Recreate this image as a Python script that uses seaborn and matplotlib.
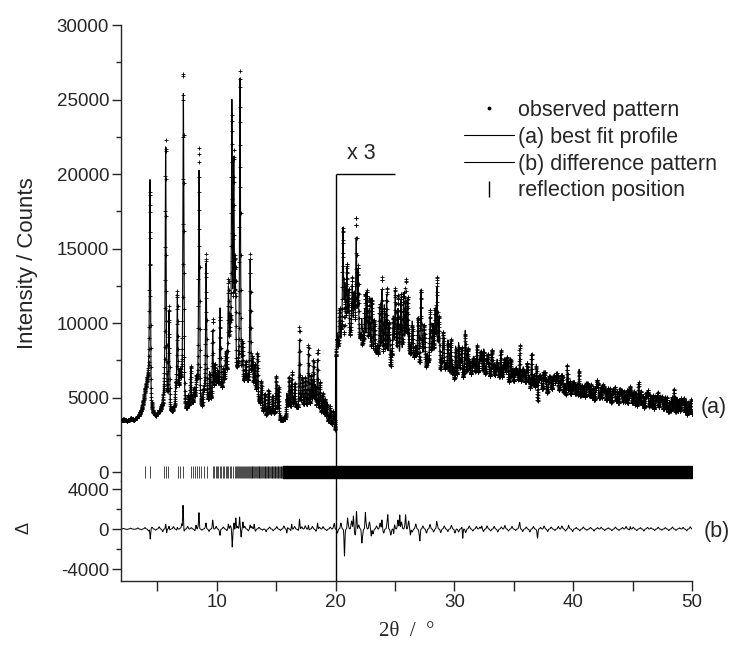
import numpy as np
import pandas as pd
import matplotlib
matplotlib.use("Agg")
import matplotlib.pyplot as plt
from matplotlib.lines import Line2D
from matplotlib.ticker import FixedLocator
import seaborn as sns

# ------------------------------------------------------------------ data
STEP = 0.01                 # 2theta sampling step (deg)
X_START, X_END = 2.0, 50.0
SPLIT = 20.0                # above this angle the pattern is shown x3
SCALE_TEXT = "x 3"

# low-angle background (lower envelope) knots, counts
bg_lo_x = [2.0, 3.0, 3.4, 3.7, 3.9, 4.1, 4.3, 4.45, 5.2, 5.45, 5.65, 5.8, 6.1,
           6.3, 6.55, 6.75, 7.0, 7.15, 7.3, 7.5, 7.9, 8.3, 8.45, 8.6, 8.8, 9.0,
           9.2, 9.5, 9.9, 10.2, 10.4, 10.6, 10.9, 11.1, 11.65, 11.85, 12.1, 12.3,
           12.7, 12.95, 13.3, 13.5, 13.9, 14.5, 15.0, 15.4, 15.7, 16.0, 16.4,
           16.8, 17.1, 17.5, 18.0, 18.5, 19.0, 19.5, 19.99]
bg_lo_y = [3450, 3520, 3650, 4300, 5000, 5900, 6500, 3750, 3850, 4600, 5500, 4500, 3900,
           3800, 4300, 5000, 5500, 6000, 3900, 3850, 4300, 5000, 5500, 4200, 4100, 5500,
           4500, 4500, 5300, 5500, 5200, 5600, 6500, 7000, 5800, 6500, 5600, 5600,
           6000, 5600, 5200, 4500, 4000, 3800, 3800, 3500, 3300, 4000, 4300,
           4200, 4300, 4200, 4100, 3800, 3500, 3200, 2800]

# low-angle peaks: position (deg) and apex of the fitted profile (counts)
pk_lo_pos = [4.38, 5.70, 5.98, 6.55, 6.68, 6.90, 7.19, 7.60, 7.81, 8.10, 8.30, 8.51,
             8.85, 9.10, 9.40, 9.66, 9.85, 10.05, 10.28, 10.55, 10.75, 10.98, 11.12,
             11.27, 11.43, 11.56, 11.96, 12.15, 12.45, 12.81, 13.00, 13.20, 13.42,
             13.75, 14.05, 14.35, 14.70, 15.00, 15.20, 15.90, 16.10, 16.32, 16.55,
             16.96, 17.20, 17.45, 17.72, 17.95, 18.14, 18.30, 18.48, 18.70, 18.90,
             19.10, 19.27, 19.55, 19.80]
pk_lo_top = [19600, 21700, 10600, 5500, 11750, 6500, 25300, 4800, 6850, 5500, 6000, 20150,
             5200, 13900, 6500, 9200, 7000, 6600, 10870, 6500, 7800, 12000, 9000,
             24200, 20000, 13000, 26200, 8000, 7200, 14100, 7300, 7000, 7850,
             6000, 5200, 5400, 5100, 6200, 5600, 5200, 6300, 6200, 5600,
             8650, 6100, 5900, 8070, 6300, 7300, 5600, 7400, 5800, 5000,
             4800, 4600, 4200, 3900]

# high-angle part, values as plotted (x3)
bg_hi_x = [20.0, 21.0, 22.0, 23.0, 24.0, 25.0, 26.0, 27.0, 28.0, 29.0, 30.0, 31.0,
           32.0, 33.0, 34.0, 35.0, 36.0, 37.0, 38.0, 39.0, 40.0, 42.0, 44.0, 46.0,
           48.0, 50.0]
bg_hi_y = [7600, 8600, 8300, 7800, 7200, 7200, 7600, 7300, 7000, 6700, 6100, 6300,
           6400, 6300, 6000, 5900, 5700, 5400, 5300, 5200, 5000, 4800, 4500, 4300,
           4000, 3800]
pk_hi_pos = [20.15, 20.35, 20.62, 20.78, 20.95, 21.10, 21.40, 21.58, 21.74, 21.90,
             22.20, 22.45, 22.64, 22.85, 23.06, 23.25, 23.70, 23.90, 24.10, 24.30,
             24.50, 24.85, 25.02, 25.25, 25.50, 25.73, 25.90, 26.06, 26.45, 26.95,
             27.19, 27.45, 27.97, 28.20, 28.38, 28.54, 28.70, 29.05, 29.45, 29.70,
             30.10, 30.36, 30.60, 30.92, 31.15, 31.60, 31.90, 32.20, 32.46, 32.80,
             33.17, 33.60, 33.90, 34.20, 34.43, 34.75, 35.20, 35.50, 35.80, 36.15,
             36.50, 36.90, 37.20, 37.60, 38.00, 38.40, 38.60, 39.00, 39.50, 40.00,
             40.50, 41.20, 42.00, 42.60, 43.40, 44.00, 44.80, 45.50, 46.20, 47.00,
             47.40, 48.50, 49.20]
pk_hi_top = [9000, 10500, 16000, 12000, 13100, 11000, 12200, 11500, 15000, 12500,
             10000, 10500, 11700, 10500, 11100, 9800, 10000, 11400, 10200, 11100,
             9000, 10000, 11800, 10500, 10800, 11300, 10500, 11100, 9800, 10000,
             12000, 9500, 10200, 9600, 10500, 11700, 9500, 9000, 8500, 8000,
             7500, 8400, 8000, 8860, 7800, 7600, 7500, 7800, 7830, 7600,
             8000, 7400, 7300, 7200, 7500, 7000, 6900, 7100, 6900, 6800,
             6950, 6500, 6300, 6400, 6300, 6400, 6500, 6200, 6300, 6000,
             5900, 5900, 6000, 5700, 5500, 5400, 5400, 5200, 5100, 4900,
             4900, 4700, 4600]
# fine structure above 20 deg: small reflections every 0.2 deg (as plotted)
TEX_START, TEX_STEP = 20.1, 0.2
tex_h = [500, 700, 450, 800, 600, 550, 750, 500, 650, 700,
         480, 820, 600, 700, 520, 760, 640, 580, 720, 500,
         680, 560, 790, 610, 530, 740, 660, 500, 700, 620,
         560, 780, 640, 520, 700, 600, 750, 540, 680, 620,
         720, 560, 800, 600, 650, 700, 540, 760, 620, 680,
         820, 700, 900, 760, 650, 880, 720, 940, 680, 800,
         760, 900, 640, 850, 720, 960, 700, 820, 880, 660,
         900, 740, 820, 960, 700, 860, 780, 640, 900, 760,
         840, 700, 920, 780, 660, 880, 740, 960, 700, 820,
         780, 900, 680, 860, 740, 940, 720, 820, 880, 700,
         880, 760, 940, 820, 700, 960, 780, 900, 840, 720,
         920, 800, 980, 760, 860, 940, 720, 880, 800, 960,
         740, 900, 840, 980, 780, 860, 920, 760, 940, 820,
         880, 1000, 780, 900, 840, 960, 800, 920, 860, 980,
         760, 900, 840, 1000, 820, 940, 880, 960, 800, 920]

# difference pattern: main residual spikes (position, amplitude)
res_pos = [4.40, 5.70, 5.78, 5.98, 6.68, 7.05, 7.16, 8.25, 8.50, 9.10, 9.66, 10.28,
           10.98, 11.30, 11.45, 11.60, 11.92, 12.05, 12.20, 12.81, 13.15, 15.90,
           16.30, 16.96, 17.72, 18.48, 19.90, 20.75, 21.00, 21.50, 21.76, 22.20,
           22.50, 23.00, 23.90, 24.40, 24.90, 25.40, 25.90, 26.30, 27.10, 28.50,
           30.70, 32.30, 35.50, 37.00, 39.60, 44.80]
res_amp = [-1000, 400, -500, 300, 300, 500, 2400, 400, 1500, 500, 700, -400,
           500, -1800, 900, 1100, 1200, -600, 700, 400, 500, -500,
           600, 1000, 500, 600, 400, -2000, 800, 1300, 1800, -900,
           1300, -700, 900, 1000, -700, 1400, 1200, -600, -900, 500,
           -1070, 300, 500, -800, 300, 300]
# difference pattern: small wiggles every 0.3 deg
RT_START, RT_STEP = 2.15, 0.3
res_tex = [60, -50, 90, -40, 110, -80, 150,
           -200, 180, -120, 220, -260, 150, -90, 240, -180, 120,
           -220, 260, 140, -160, 230, -120, 180, -240, 200, 260,
           -280, 200, -150, 320, -300, 250, -200, 280, -180, 240,
           -220, 160, -120, -260, 200, -180, 240, -150, 300, 180,
           -200, 260, -140, 220, 320, -180, 260, -220, 180, 240, -160, 200, 280,
           -400, 600, -700, 500, 800, -600, 400, -800, 600, 700,
           -500, 300, 600, -400, 700, -600, 500, 900, 700, 400, 800, -300, 500,
           -500, 300, -400, 450, -300, 400, -350, 300, -250, 350, -400, -300, 250,
           -350, 300, -200, 250,
           200, -250, 300, -200, 250, -300, 200, 350, -200, 250,
           -150, 300, -250, 200, -300, 250, -200, 150, 300, -250,
           200, -150, 250, 300, -200, 150, -250,
           150, -180, 200, -120, 160, -200, 140, 180, -150, 120,
           -160, 200, -140, 150, 250, -120, 180, -160, 140, -200,
           160, 120, -150, 180, -120, 140, -160, 200, -140, 120,
           160, -180, 220]

# reflection positions (deg); above 15.6 deg they merge into a solid band
refl_pos = [3.97, 4.41, 5.59, 5.76, 5.93, 6.71, 6.88, 7.12, 7.80, 7.97, 8.14, 8.30,
            8.47, 8.64, 8.90, 9.15, 9.66, 9.78, 9.90, 10.02, 10.14, 10.26, 10.38,
            10.50, 10.62, 10.74, 10.86, 10.98, 11.10, 11.22, 11.36, 11.52, 11.60,
            11.70, 11.78, 11.88, 11.96, 12.05, 12.14, 12.22, 12.30, 12.38, 12.47,
            12.55, 12.62, 12.70, 12.78, 12.86, 12.93, 13.00, 13.08, 13.15, 13.22,
            13.30, 13.37, 13.45, 13.52, 13.58, 13.66, 13.73, 13.80, 13.87, 13.95,
            14.02, 14.08, 14.15, 14.22, 14.29, 14.35, 14.42, 14.49, 14.55, 14.62,
            14.68, 14.75, 14.81, 14.88, 14.94, 15.00, 15.07, 15.13, 15.19, 15.25,
            15.31, 15.38, 15.44, 15.50]
refl_band = [(15.6, 50.0)]

legend_labels = ["observed pattern", "(a) best fit profile",
                 "(b) difference pattern", "reflection position"]

# ------------------------------------------------------------------ profile model
FWHM_LO, FWHM_HI, FWHM_TEX = 0.09, 0.10, 0.07


def pv(x, x0, fw, eta=0.5):
    t = (x - x0) / fw
    return eta / (1.0 + 4.0 * t * t) + (1.0 - eta) * np.exp(-4.0 * np.log(2) * t * t)


def gauss(x, x0, fw):
    t = (x - x0) / fw
    return np.exp(-4.0 * np.log(2) * t * t)


x = np.round(np.arange(X_START, X_END + STEP / 2, STEP), 4)
lo = x < SPLIT
xl, xh = x[lo], x[~lo]

calc_lo = np.interp(xl, bg_lo_x, bg_lo_y)
for p, t in zip(pk_lo_pos, pk_lo_top):
    h = max(t - np.interp(p, bg_lo_x, bg_lo_y), 0)
    calc_lo += h * pv(xl, p, FWHM_LO)

calc_hi = np.interp(xh, bg_hi_x, bg_hi_y)
for p, t in zip(pk_hi_pos, pk_hi_top):
    h = max(t - np.interp(p, bg_hi_x, bg_hi_y), 0)
    calc_hi += h * pv(xh, p, FWHM_HI)
tex_pos = TEX_START + TEX_STEP * np.arange(len(tex_h))
for p, h in zip(tex_pos, tex_h):
    calc_hi += h * pv(xh, p, FWHM_TEX)

calc = np.concatenate([calc_lo, calc_hi])

diff = np.zeros_like(x)
for p, a in zip(res_pos, res_amp):
    diff += a * gauss(x, p, 0.07)
rt_pos = RT_START + RT_STEP * np.arange(len(res_tex))
for p, a in zip(rt_pos, res_tex):
    diff += a * gauss(x, p, 0.11)

obs = calc + diff
df = pd.DataFrame({"tt": x, "obs": obs, "calc": calc, "diff": diff})

# ------------------------------------------------------------------ figure
sns.set_style("ticks")
plt.rcParams["font.family"] = ["Liberation Sans", "DejaVu Sans"]
plt.rcParams["axes.linewidth"] = 1.0
plt.rcParams["axes.unicode_minus"] = False

W, H = 731, 645
fig = plt.figure(figsize=(W / 100, H / 100), dpi=100)
L, R = 121, 692
T_TOP, T_BOT, D_BOT = 25, 481, 581
ax = fig.add_axes([L / W, 1 - T_BOT / H, (R - L) / W, (T_BOT - T_TOP) / H])
axd = fig.add_axes([L / W, 1 - D_BOT / H, (R - L) / W, (D_BOT - T_BOT) / H], sharex=ax)

XMIN = 1.94
Y_MIN, Y_MAX = -604, 30000
D_MIN, D_MAX = -5200, 4800

sns.scatterplot(data=df, x="tt", y="obs", ax=ax, marker="+", s=6, color="k",
                linewidth=0.6, legend=False, zorder=3)
sns.lineplot(data=df, x="tt", y="calc", ax=ax, color="k", lw=0.8,
             estimator=None, sort=False, zorder=4)
sns.lineplot(data=df, x="tt", y="diff", ax=axd, color="k", lw=0.7,
             estimator=None, sort=False)

# reflection markers around zero of the main axis
ax.vlines(refl_pos, -380, 380, color="k", lw=0.5)
ax.broken_barh([(a, b - a) for a, b in refl_band], (-380, 760), color="k")

# x3 marker
BOX_TOP, BOX_END = 20000, 25.0
ax.vlines(SPLIT, Y_MIN, BOX_TOP, color="k", lw=1.0)
ax.hlines(BOX_TOP, SPLIT, BOX_END, color="k", lw=1.0)
ax.text((SPLIT + BOX_END) / 2 - 0.3, 21400, SCALE_TEXT, ha="center", va="center",
        fontsize=15.5)
axd.axvline(SPLIT, color="k", lw=1.0)

ax.text(50.72, 4300, "(a)", ha="left", va="center", fontsize=15.5, clip_on=False)
axd.text(50.97, -250, "(b)", ha="left", va="center", fontsize=15.5, clip_on=False)

# axes styling
ax.set_xlim(XMIN, 50)
ax.set_ylim(Y_MIN, Y_MAX)
axd.set_ylim(D_MIN, D_MAX)
for s in ["top", "right", "bottom"]:
    ax.spines[s].set_visible(False)
for s in ["top", "right"]:
    axd.spines[s].set_visible(False)
ax.tick_params(axis="x", which="both", bottom=False, labelbottom=False)
ax.set_yticks([0, 5000, 10000, 15000, 20000, 25000, 30000])
ax.yaxis.set_minor_locator(FixedLocator([2500, 7500, 12500, 17500, 22500, 27500]))
axd.set_yticks([-4000, 0, 4000])
axd.yaxis.set_minor_locator(FixedLocator([-2000, 2000]))
axd.set_xticks([10, 20, 30, 40, 50])
axd.xaxis.set_minor_locator(FixedLocator([5, 15, 25, 35, 45]))
for a in (ax, axd):
    a.tick_params(axis="y", which="major", direction="out", length=6.5, width=1.0,
                  pad=2, labelsize=13.5)
    a.tick_params(axis="y", which="minor", direction="out", length=3.5, width=1.0)
    a.set_xlabel("")
    a.set_ylabel("")
axd.tick_params(axis="x", which="major", direction="out", length=7, width=1.0,
                pad=2.5, labelsize=13.5)
axd.tick_params(axis="x", which="minor", direction="out", length=7, width=1.0)

fig.text(28 / W, 1 - 263 / H, "Intensity / Counts", rotation=90, ha="center",
         va="center", fontsize=16)
fig.text(24 / W, 1 - 528 / H, "Δ", rotation=90, ha="center", va="center", fontsize=13)
fig.text(406.5 / W, 1 - 632 / H, "2θ  /  °", ha="center", va="center", fontsize=15,
         family=["Liberation Serif", "DejaVu Serif"])

handles = [Line2D([], [], ls="none", marker=".", ms=3.5, color="k"),
           Line2D([], [], color="k", lw=0.8),
           Line2D([], [], color="k", lw=0.8),
           Line2D([], [], ls="none", marker="|", ms=12, mew=1.0, color="k")]
fig.legend(handles, legend_labels, loc="upper left",
           bbox_to_anchor=(464 / W, 1 - 100 / H), frameon=False, fontsize=15.5,
           handlelength=2.3, handletextpad=0.2, labelspacing=0.27, borderpad=0,
           borderaxespad=0)

fig.savefig("out.png", dpi=100)
